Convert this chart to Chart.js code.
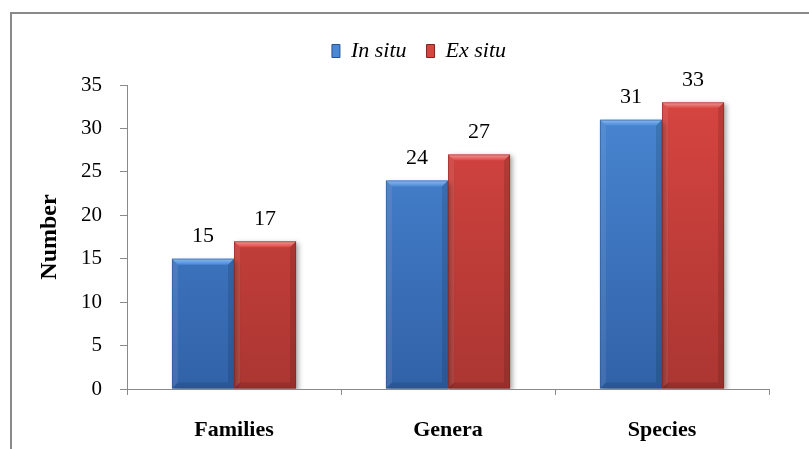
<!DOCTYPE html>
<html>
<head>
<meta charset="utf-8">
<script src="https://cdn.jsdelivr.net/npm/chart.js@4"></script>
<style>
html,body{margin:0;padding:0;background:#fff;overflow:hidden;}
#frame{position:absolute;left:10px;top:12px;width:900px;height:600px;border:2px solid #8a8a8a;box-sizing:border-box;}
#wrap{position:absolute;left:0;top:0;width:809px;height:449px;}
</style>
</head>
<body>
<div id="frame"></div>
<div id="wrap"><canvas id="c" width="809" height="449"></canvas></div>
<script>
const categories = ["Families", "Genera", "Species"];
const inSitu = [15, 24, 31];
const exSitu = [17, 27, 33];
const seriesNames = ["In situ", "Ex situ"];
const yTicks = [0, 5, 10, 15, 20, 25, 30, 35];

const SERIF = "'Liberation Serif','Times New Roman',serif";
const palette = [
  {top:'#4a88d5', bottom:'#3162a8', light:'#8cbcf2', dark:'#26518f'},
  {top:'#d84541', bottom:'#ab3632', light:'#f29a96', dark:'#7f2420'}
];

function vGrad(ctx, area, p){
  const g = ctx.createLinearGradient(0, area.top, 0, area.bottom);
  g.addColorStop(0, p.top); g.addColorStop(1, p.bottom);
  return g;
}

const bevelPlugin = {
  id:'bevel',
  beforeLayout(chart){
    const lg = chart.legend;
    if (lg && !lg._patched){
      const f = lg.fit;
      lg.fit = function(){ f.call(this); this.height += 13; };
      lg._patched = true;
    }
  },
  afterLayout(chart){
    const lg = chart.legend;
    if (lg){
      const d = 419 - (lg.left + lg.right)/2;
      lg.left += d; lg.right += d;
      if (lg.legendHitBoxes) lg.legendHitBoxes.forEach(h=>{h.left += d;});
    }
  },
  beforeDatasetsDraw(chart){
    const ctx = chart.ctx;
    ctx.save();
    ctx.shadowColor = 'rgba(0,0,0,0.35)';
    ctx.shadowBlur = 5;
    ctx.shadowOffsetX = 3;
    ctx.shadowOffsetY = 2;
  },
  afterDatasetsDraw(chart){
    const ctx = chart.ctx;
    ctx.restore();
    chart.data.datasets.forEach((ds, di)=>{
      const meta = chart.getDatasetMeta(di);
      const p = palette[di];
      meta.data.forEach((bar, i)=>{
        const {x, y, base, width} = bar.getProps(['x','y','base','width'], true);
        const l = x - width/2, r = x + width/2, t = y, b = base;
        const e = 6;
        ctx.save();
        // top bevel
        ctx.beginPath();
        ctx.moveTo(l, t); ctx.lineTo(r, t); ctx.lineTo(r - e, t + e); ctx.lineTo(l + e, t + e); ctx.closePath();
        const tg = ctx.createLinearGradient(0, t, 0, t + e);
        tg.addColorStop(0, p.light); tg.addColorStop(1, p.top);
        ctx.fillStyle = tg; ctx.fill();
        // left bevel
        ctx.beginPath();
        ctx.moveTo(l, t); ctx.lineTo(l + e, t + e); ctx.lineTo(l + e, b - e); ctx.lineTo(l, b); ctx.closePath();
        ctx.fillStyle = 'rgba(255,255,255,0.08)'; ctx.fill();
        // right bevel
        ctx.beginPath();
        ctx.moveTo(r, t); ctx.lineTo(r - e, t + e); ctx.lineTo(r - e, b - e); ctx.lineTo(r, b); ctx.closePath();
        ctx.fillStyle = 'rgba(0,0,0,0.12)'; ctx.fill();
        // bottom bevel
        ctx.beginPath();
        ctx.moveTo(l, b); ctx.lineTo(l + e, b - e); ctx.lineTo(r - e, b - e); ctx.lineTo(r, b); ctx.closePath();
        ctx.fillStyle = 'rgba(0,0,0,0.12)'; ctx.fill();
        // outline
        ctx.strokeStyle = p.dark; ctx.lineWidth = 1; ctx.globalAlpha = 0.5;
        ctx.strokeRect(l + 0.5, t + 0.5, width - 1, b - t - 1);
        ctx.restore();
        // value label
        ctx.save();
        ctx.fillStyle = '#000';
        ctx.font = '22px ' + SERIF;
        ctx.textAlign = 'center';
        ctx.textBaseline = 'middle';
        ctx.fillText(String(ds.data[i]), x, t - 22.5);
        ctx.restore();
      });
    });
  }
};

const ctx = document.getElementById('c').getContext('2d');
new Chart(ctx, {
  type:'bar',
  data:{
    labels: categories,
    datasets:[
      {label: seriesNames[0], data: inSitu,
       backgroundColor: c => vGrad(c.chart.ctx, c.chart.chartArea || {top:0,bottom:449}, palette[0]),
       borderWidth:0},
      {label: seriesNames[1], data: exSitu,
       backgroundColor: c => vGrad(c.chart.ctx, c.chart.chartArea || {top:0,bottom:449}, palette[1]),
       borderWidth:0}
    ]
  },
  options:{
    responsive:false,
    animation:false,
    devicePixelRatio:1,
    layout:{padding:{left:0, right:40, top:20, bottom:0}},
    datasets:{bar:{categoryPercentage:0.58, barPercentage:1.0}},
    plugins:{
      tooltip:{enabled:false},
      legend:{
        position:'top',
        labels:{
          font:{family:SERIF, size:22, style:'italic'},
          color:'#000',
          boxWidth:8, boxHeight:13,
          padding:20,
          generateLabels(chart){
            return chart.data.datasets.map((d,i)=>({
              text:d.label, fillStyle: palette[i].top, strokeStyle: palette[i].dark,
              lineWidth:1, hidden:false, datasetIndex:i, fontColor:'#000'
            }));
          }
        }
      }
    },
    scales:{
      x:{
        grid:{display:true, drawOnChartArea:false, drawTicks:true, tickLength:6, color:'#8a8a8a', offset:true},
        border:{display:true, color:'#8a8a8a', width:1},
        ticks:{font:{family:SERIF, size:22, weight:'bold'}, color:'#000', padding:22, maxRotation:0},
        afterFit(s){ s.height = 60; }
      },
      y:{
        min:0, max:35,
        afterBuildTicks(s){ s.ticks = yTicks.map(v=>({value:v})); },
        grid:{display:true, drawOnChartArea:false, drawTicks:true, tickLength:7, color:'#8a8a8a'},
        border:{display:true, color:'#8a8a8a', width:1},
        ticks:{font:{family:SERIF, size:21}, color:'#000', padding:18},
        title:{display:true, text:'Number', color:'#000', font:{family:SERIF, size:24, weight:'bold'}, padding:{top:35, bottom:0}},
        afterFit(s){ s.width = 127; }
      }
    }
  },
  plugins:[bevelPlugin]
});
</script>
</body>
</html>
